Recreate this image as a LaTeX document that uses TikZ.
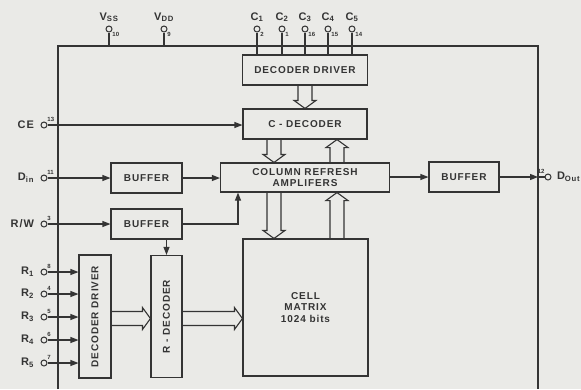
\documentclass[tikz,border=0pt]{standalone}
\usepackage{fontspec}
\usepackage{graphicx}
\setmainfont{Liberation Sans}
\newfontfamily\boxfont[LetterSpace=9]{Liberation Sans}
\usetikzlibrary{arrows.meta,calc,positioning}

\definecolor{paper}{RGB}{234,234,231}
\definecolor{ink}{RGB}{52,52,52}

\tikzset{
  blk/.style={draw=ink,line width=1.1pt,inner sep=0pt,align=center,
    text=ink,font=\boxfont\bfseries\fontsize{10}{11.5}\selectfont},
  pinc/.style={draw=ink,circle,line width=1pt,minimum size=6pt,inner sep=0pt},
  pname/.style={text=ink,font=\boxfont\bfseries\fontsize{11}{12}\selectfont},
  num/.style={text=ink,inner sep=0.8pt,font=\bfseries\fontsize{6}{6}\selectfont},
  bus/.style={draw=ink,line width=1.1pt,line join=miter},
}

% hollow bus arrow from #1 to #2
\newcommand{\busarrow}[2]{%
  \draw[bus] let \p1=(#1), \p2=(#2),
      \n1={atan2(\y2-\y1,\x2-\x1)}, \n2={veclen(\x2-\x1,\y2-\y1)} in
    [shift={(\p1)},rotate=\n1]
    (0pt,7pt) -- (\n2-8pt,7pt) -- (\n2-8pt,11pt) -- (\n2*1pt,0pt)
    -- (\n2-8pt,-11pt) -- (\n2-8pt,-7pt) -- (0pt,-7pt);}

\begin{document}
\begin{tikzpicture}[x=1pt,y=-1pt,>={Triangle[length=8pt,width=6pt]},
    wire/.style={ink,line width=1.1pt}]
  \fill[paper] (0,0) rectangle (581,389);
  \useasboundingbox (0,0) rectangle (581,389);

  % package outline
  \coordinate (ftl) at (58,46);
  \coordinate (ftr) at (538,46);
  \draw[wire] (58,389) -- (ftl) -- (ftr) -- (538,389);

  % blocks
  \node[blk,minimum width=125pt,minimum height=30pt] (ddtop) at (305,70) {DECODER DRIVER};
  \node[blk,minimum width=124pt,minimum height=30pt] (cdec) at (305,124) {C - DECODER};
  \node[blk,minimum width=169pt,minimum height=29pt] (colamp) at (305,177.5)
    {COLUMN REFRESH\\AMPLIFERS};
  \node[blk,minimum width=70pt,minimum height=30pt] (bufout) at (464,177) {BUFFER};
  \node[blk,minimum width=71pt,minimum height=30pt] (bufin) at (146.5,178) {BUFFER};
  \node[blk,minimum width=71pt,minimum height=30pt] (bufrw) at (146.5,224) {BUFFER};
  \node[blk,minimum width=125pt,minimum height=137pt] (cells) at (305.5,307.5)
    {CELL\\MATRIX\\1024 bits};
  \node[blk,minimum width=31pt,minimum height=122pt] (rdec) at (166.5,316.5)
    {\rotatebox{90}{R - DECODER}};
  \node[blk,minimum width=32pt,minimum height=123pt] (ddleft) at (95,316.5)
    {\rotatebox{90}{DECODER DRIVER}};

  % top pins
  \node[pinc,label={[pname]above:V\textsubscript{SS}},label={[num]below right:10}] (vss) at (109,29) {};
  \node[pinc,label={[pname]above:V\textsubscript{DD}},label={[num]below right:9}] (vdd) at (164,29) {};
  \node[pinc,label={[pname]above:C\textsubscript{1}},label={[num]below right:2}] (c1) at (257,29) {};
  \node[pinc,label={[pname]above:C\textsubscript{2}},label={[num]below right:1}] (c2) at (282,29) {};
  \node[pinc,label={[pname]above:C\textsubscript{3}},label={[num]below right:16}] (c3) at (305,29) {};
  \node[pinc,label={[pname]above:C\textsubscript{4}},label={[num]below right:15}] (c4) at (328,29) {};
  \node[pinc,label={[pname]above:C\textsubscript{5}},label={[num]below right:14}] (c5) at (352,29) {};

  % left pins
  \node[pinc,label={[pname,label distance=3pt]left:CE},label={[num]above right:13}] (ce) at (44,125) {};
  \node[pinc,label={[pname,label distance=3pt]left:D\textsubscript{in}},label={[num]above right:11}] (din) at (44,178) {};
  \node[pinc,label={[pname,label distance=3pt]left:R/W},label={[num]above right:3}] (rw) at (44,224) {};
  \node[pinc,label={[pname,label distance=3pt]left:R\textsubscript{1}},label={[num]above right:8}] (r1) at (44,272) {};
  \node[pinc,label={[pname,label distance=3pt]left:R\textsubscript{2}},label={[num]above right:4}] (r2) at (44,294) {};
  \node[pinc,label={[pname,label distance=3pt]left:R\textsubscript{3}},label={[num]above right:5}] (r3) at (44,317) {};
  \node[pinc,label={[pname,label distance=3pt]left:R\textsubscript{4}},label={[num]above right:6}] (r4) at (44,340) {};
  \node[pinc,label={[pname,label distance=3pt]left:R\textsubscript{5}},label={[num]above right:7}] (r5) at (44,363) {};

  % right pin
  \node[pinc,label={[pname,label distance=2pt]right:D\textsubscript{Out}},label={[num]above left:12}] (dout) at (548,177) {};

  % supply and column address lines
  \draw[wire] (vss) -- (vss |- ftl);
  \draw[wire] (vdd) -- (vdd |- ftl);
  \foreach \c in {c1,c2,c3,c4,c5}
    \draw[wire] (\c) -- (\c |- ddtop.north);

  % signal lines
  \draw[wire,->] (ce) -- (ce -| cdec.west);
  \draw[wire,->] (din) -- (bufin.west);
  \draw[wire,->] (bufin.east) -- (bufin.east -| colamp.west);
  \draw[wire,->] (rw) -- (bufrw.west);
  \draw[wire,->] (bufrw.east) -| ($(colamp.south)+(-67,0)$);
  \draw[wire,->] (rdec.north |- bufrw.south) -- (rdec.north);
  \foreach \r in {r1,r2,r3,r4,r5}
    \draw[wire,->] (\r) -- (\r -| ddleft.west);
  \draw[wire,->] (colamp.east |- bufout.west) -- (bufout.west);
  \draw[wire,->] (bufout.east) -- (bufout.east -| ftr);
  \draw[wire] (bufout.east -| ftr) -- (dout);

  % buses
  \busarrow{ddtop.south}{cdec.north}
  \busarrow{$(cdec.south)+(-31,0)$}{$(colamp.north)+(-31,0)$}
  \busarrow{$(colamp.north)+(32,0)$}{$(cdec.south)+(32,0)$}
  \busarrow{$(colamp.south)+(-31,0)$}{$(cells.north)+(-31.5,0)$}
  \busarrow{$(cells.north)+(31.5,0)$}{$(colamp.south)+(32,0)$}
  \busarrow{$(ddleft.east)+(0,2)$}{$(rdec.west)+(0,2)$}
  \busarrow{$(rdec.east)+(0,2)$}{$(rdec.east -| cells.west)+(0,2)$}
\end{tikzpicture}
\end{document}
